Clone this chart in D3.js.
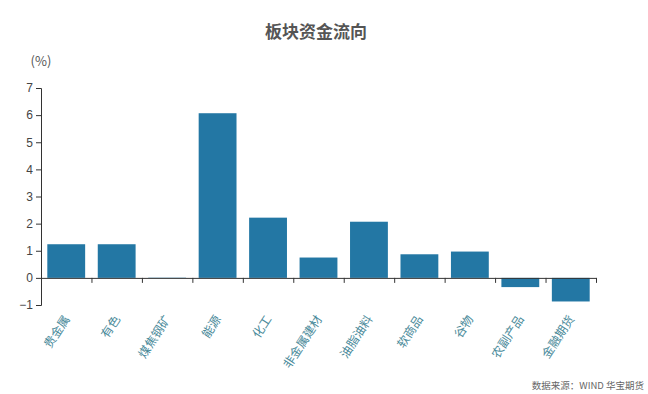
<!DOCTYPE html>
<html>
<head>
<meta charset="utf-8">
<script src="https://cdn.jsdelivr.net/npm/d3@7/dist/d3.min.js"></script>
<style>
  body { margin: 0; background: #fff; }
  svg text { font-family: "Noto Sans CJK SC", "Noto Sans", sans-serif; }
</style>
</head>
<body>
<div id="chart"></div>
<script>
// chart data
const categories = ["贵金属", "有色", "煤焦钢矿", "能源", "化工", "非金属建材", "油脂油料", "软商品", "谷物", "农副产品", "金融期货"];
const flows = [1.24, 1.24, 0.01, 6.07, 2.22, 0.75, 2.07, 0.87, 0.97, -0.34, -0.87];
const yTicks = [-1, 0, 1, 2, 3, 4, 5, 6, 7];

const width = 648;
const height = 394;

const svg = d3.select("#chart")
    .append("svg")
    .attr("width", width)
    .attr("height", height);

// scales
const x = d3.scaleBand()
    .domain(categories)
    .range([41, 596])
    .paddingInner(0.25)
    .paddingOuter(0.125);

// boundary ticks between categories
const xEdge = d3.scaleLinear()
    .domain([0, categories.length])
    .range([41, 596]);

const y = d3.scaleLinear()
    .domain([-1, 7])
    .range([305, 88]);

// title
svg.append("text")
    .attr("x", 316)
    .attr("y", 38)
    .attr("text-anchor", "middle")
    .attr("font-size", 17)
    .attr("font-weight", "bold")
    .attr("fill", "#555")
    .text("板块资金流向");

// unit
svg.append("text")
    .attr("x", 41)
    .attr("y", 66)
    .attr("text-anchor", "middle")
    .attr("font-size", 13)
    .attr("fill", "#555")
    .text("(%)");

// bars
svg.append("g")
    .selectAll("rect")
    .data(flows)
    .enter()
    .append("rect")
    .attr("x", (d, i) => x(categories[i]))
    .attr("width", x.bandwidth())
    .attr("y", d => y(Math.max(0, d)))
    .attr("height", d => Math.abs(y(d) - y(0)))
    .attr("fill", "#2377a4");

// y axis
const yAxis = svg.append("g")
    .attr("transform", "translate(41,0)")
    .call(d3.axisLeft(y).tickValues(yTicks).tickSize(5).tickFormat(d3.format("d")));
yAxis.selectAll("path, line").attr("stroke", "#333");
yAxis.selectAll("text").attr("font-size", 12).attr("fill", "#444")
    .style("font-family", "'Liberation Sans', Arial, sans-serif");

// x axis at zero
const xAxis = svg.append("g")
    .attr("transform", `translate(0,${y(0)})`)
    .call(d3.axisBottom(xEdge).ticks(categories.length).tickSize(5).tickSizeOuter(0).tickFormat(""));
xAxis.selectAll("path, line").attr("stroke", "#333");
xAxis.selectAll(".tick").filter(d => d === 0).remove();

// category labels
svg.append("g")
    .selectAll("text")
    .data(categories)
    .enter()
    .append("text")
    .attr("transform", d => `translate(${x(d) + x.bandwidth() / 2 + 4},${y(0) + 41}) rotate(-57)`)
    .attr("text-anchor", "end")
    .attr("font-size", 12)
    .attr("fill", "#4a8a9a")
    .text(d => d);

// source
svg.append("text")
    .attr("x", 644)
    .attr("y", 389)
    .attr("text-anchor", "end")
    .attr("font-size", 9.5)
    .attr("fill", "#666")
    .text("数据来源：WIND 华宝期货");
</script>
</body>
</html>
